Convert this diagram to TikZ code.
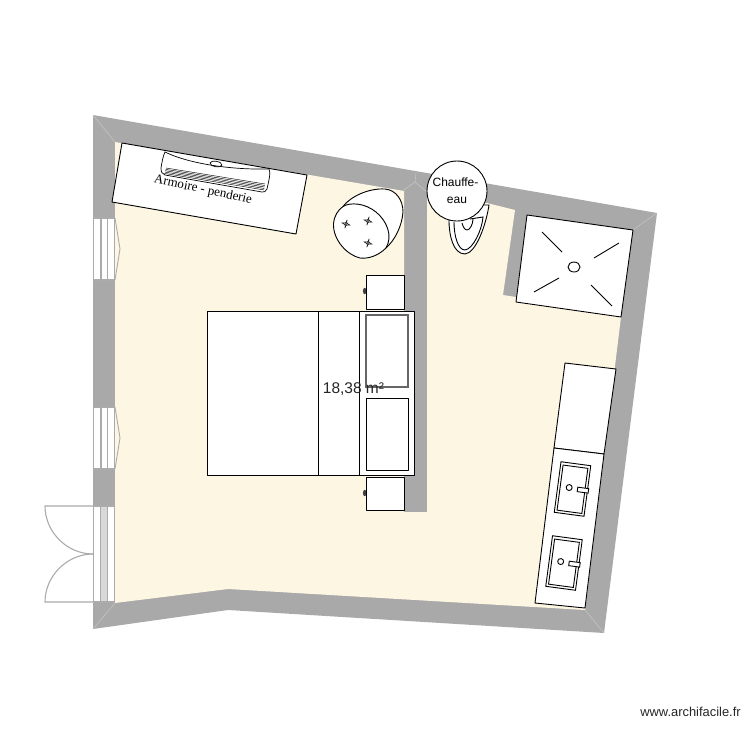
\documentclass[tikz,border=0pt]{standalone}
\usepackage{fontspec}
\setmainfont{Liberation Sans}
\newfontfamily\serifface{Liberation Serif}
\definecolor{wallgray}{HTML}{A9A9A9}
\definecolor{floorcream}{HTML}{FCF6E3}
\definecolor{mitre}{HTML}{C4C4C4}
\definecolor{doorgray}{HTML}{ABABAB}
\definecolor{panelgray}{HTML}{D9D9D9}
\tikzset{
  furn/.style={draw=black,fill=white,line width=0.9pt,line join=round},
  fineline/.style={draw=black,line width=0.9pt},
  mitreline/.style={draw=mitre,line width=0.6pt},
  winline/.style={draw=doorgray,line width=1.1pt},
  lbl/.style={inner sep=0pt,text=black}
}
\newcommand{\windowat}[1]{%
  \fill[white] (93,#1) rectangle (115,#1+62);
  \draw[winline] (93.6,#1) rectangle (114.6,#1+62);
  \draw[winline] (101,#1) -- (101,#1+62) (107.6,#1) -- (107.6,#1+62);
  \draw[winline,line width=0.9pt] (115,#1) -- (120,#1+31) -- (115,#1+62);
}
\newcommand{\sinkat}[2]{%
  \begin{scope}[shift={(#1,#2)},rotate=-7.6]
    \draw[fineline,fill=white] (-15,-25.5) rectangle (15,25.5);
    \draw[fineline,fill=white] (-12.5,-22.5) rectangle (12.5,23);
    \draw[fineline] (-3.5,-1) circle (3);
    \draw[fineline,fill=white] (5,-2.5) rectangle (16,2);
  \end{scope}%
}
\newcommand{\tuft}[2]{%
  \begin{scope}[shift={(#1,#2)},rotate=-15]
    \draw[fineline,line width=0.5pt] (0,-4.5) .. controls (0,-1) and (1,-0.1) .. (4,0)
      .. controls (1,0.1) and (0,1) .. (0,4.5) .. controls (0,1) and (-1,0.1) .. (-4,0)
      .. controls (-1,-0.1) and (0,-1) .. (0,-4.5) -- cycle;
    \draw[fineline,line width=0.5pt] (0,-1.5) -- (0,1.5) (-1.5,0) -- (1.5,0);
  \end{scope}%
}
\begin{document}
\begin{tikzpicture}[x=1pt,y=-1pt]
\useasboundingbox (0,0) rectangle (750,750);
% walls
\fill[wallgray] (93,115) -- (657,213) -- (604,633) -- (228,610) -- (93,629) -- cycle;
% floor
\fill[floorcream] (115,142) -- (404,191) -- (404,512) -- (427,512) -- (427,188) -- (515,210)
  -- (503,295) -- (516,297) -- (516,302) -- (621,317) -- (585,610) -- (228,589) -- (115,603) -- cycle;
% mitres
\draw[mitreline] (93,115) -- (115,142) (93,629) -- (115,603) (604,633) -- (585,610) (657,213) -- (633,230);
\draw[mitreline] (416,173) -- (415,182) -- (404,190) (415,182) -- (427,192);
% windows
\windowat{218}
\windowat{407}
% door
\fill[white] (93,506) rectangle (115,602);
\fill[panelgray] (100.5,506) rectangle (107.6,602);
\draw[winline] (93.6,506) rectangle (114.6,602);
\draw[winline] (100.6,506) -- (100.6,602) (107.6,506) -- (107.6,602);
\draw[winline] (93,506) -- (45,506) .. controls (45,532) and (67,554) .. (93,554);
\draw[winline] (93,602) -- (45,602) .. controls (45,576) and (67,554) .. (93,554);
% wardrobe
\draw[furn] (122,143) -- (307,175) -- (296,234) -- (112,202) -- cycle;
% AC unit
\draw[fineline,line width=0.7pt] (165,152) .. controls (185,162) and (225,170) .. (269,169)
  .. controls (271,172) and (269,180) .. (267,189) .. controls (266,192) and (264,192) .. (262,192)
  -- (165,175) .. controls (162,174) and (161,172) .. (161,168) .. controls (162,162) and (163,156) .. (165,152) -- cycle;
\foreach \k in {0,1,2,3,4}{
  \draw[fineline,line width=0.45pt] (166-\k*0.4,168+\k*1.35) -- (265-\k*0.2,184+\k*1.5);
}
\draw[fineline,line width=0.7pt,rotate around={-10:(216,164)}] (216,164) ellipse (6 and 2.7);
\node[lbl,rotate=-12,font=\serifface\fontsize{13}{13}\selectfont] (armoire) at (203,190) {Armoire - penderie};
% pouf
\draw[furn] (343,206.5) .. controls (350,197) and (368,188) .. (385,189)
  .. controls (396,190) and (403,200) .. (403,212) .. controls (402,226) and (395,240) .. (386,248)
  .. controls (378,256) and (368,259) .. (360,258) .. controls (347,255) and (333,240) .. (333.5,224)
  .. controls (334,216) and (338,210) .. (343,206.5) -- cycle;
\draw[fineline] (343,206.5) .. controls (350,202) and (365,203) .. (376,212)
  .. controls (387,221) and (393,236) .. (386,248);
\tuft{346}{224}
\tuft{368}{221}
\tuft{368}{243}
% toilet
\draw[furn] (449,220) .. controls (449,235) and (453,254) .. (465,254)
  .. controls (476,253) and (486,225) .. (489,205) -- (480,205) -- cycle;
\draw[fineline] (454,222) .. controls (454,236) and (458,250) .. (465,250)
  .. controls (473,249) and (482,230) .. (483,217) -- (470,219);
\draw[fineline] (462,223) .. controls (463,227) and (465,230) .. (467,230) .. controls (470,230) and (473,224) .. (473,219);
% water heater
\node[draw=black,fill=white,circle,minimum size=60pt,inner sep=0pt,line width=0.9pt,align=center,
  font=\fontsize{12}{17}\selectfont] (chauffe) at (457,191) {\hspace*{-3pt}Chauffe-\\eau};
% shower
\draw[furn] (527,215) -- (633,230) -- (621,317) -- (516,302) -- cycle;
\draw[fineline] (574,267) ellipse (6 and 5);
\draw[fineline] (542,232) -- (562,252) (619,243) -- (594,258) (559,278) -- (534,292) (591,285) -- (612,306);
% right cabinet
\draw[furn] (565,363) -- (616,369) -- (604,454) -- (554,448) -- cycle;
\draw[furn] (554,448) -- (604,454) -- (585,608) -- (535,603) -- cycle;
\sinkat{572.5}{489}
\sinkat{564}{563}
% nightstands
\fill[black!75] (364.7,291) ellipse (1.8 and 3.2);
\fill[black!75] (364.7,493) ellipse (1.8 and 3.2);
\draw[furn] (366,275) rectangle (404,309);
\draw[furn] (366,477) rectangle (404,510);
% bed
\draw[furn] (207,311) rectangle (414,475);
\draw[fineline] (318,311) -- (318,475) (359,311) -- (359,475);
\draw[draw=black!60,line width=1.2pt,fill=white] (366,315) rectangle (408,387);
\draw[furn] (366,398) rectangle (408,470);
\node[lbl,font=\fontsize{15.5}{16}\selectfont,text=black!85] (area) at (353.5,389) {18,38 m²};
\node[lbl,font=\fontsize{12.9}{13}\selectfont,text=black!85] (site) at (690.5,712) {www.archifacile.fr};
\end{tikzpicture}
\end{document}
